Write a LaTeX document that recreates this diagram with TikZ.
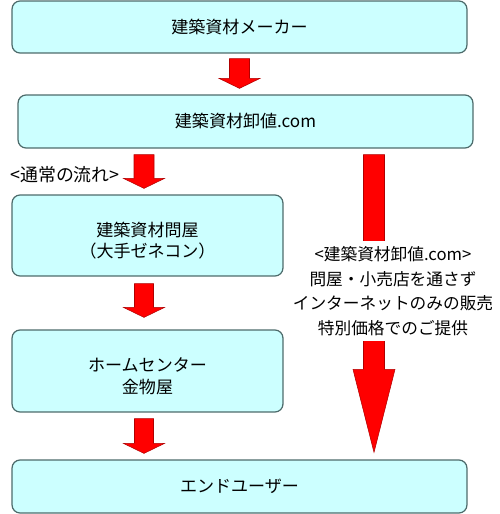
\documentclass[tikz,border=0pt]{standalone}
\usepackage{fontspec}
\setmainfont{Noto Sans CJK JP}
\usetikzlibrary{calc}
\definecolor{boxfill}{HTML}{CCFFFF}
\definecolor{boxline}{HTML}{4D6B6B}
\definecolor{arrowline}{HTML}{B00000}
\tikzset{
	box/.style={draw=boxline, fill=boxfill, line width=0.7pt, rounded corners=0.16cm, inner sep=0pt, align=center, font=\fontsize{9.7}{12.5}\selectfont},
	redarrow/.style={fill=red, draw=arrowline, line width=0.3pt},
	note/.style={align=center, inner sep=0pt, font=\fontsize{9.5}{13.9}\selectfont}
}
% #1 top, #2 tip, #3 half shaft, #4 half head, #5 head length
\newcommand\blockarrow[5]{\path #1 coordinate (ba top) #2 coordinate (ba tip);
	\draw[redarrow] ($(ba tip |- ba top)+(-#3,0)$) -- ($(ba tip)+(-#3,-#5)$) -- ($(ba tip)+(-#4,-#5)$) -- (ba tip) -- ($(ba tip)+(#4,-#5)$) -- ($(ba tip)+(#3,-#5)$) -- ($(ba tip |- ba top)+(#3,0)$) -- cycle;}

\begin{document}
\begin{tikzpicture}[x=0.02cm, y=-0.02cm]
		%%%%% START %%%%%
		
		\useasboundingbox (0, 0) rectangle (500, 514);
		
		\node[box, minimum width=9.1cm, minimum height=1.04cm] (maker) at (239.5, 27) {建築資材メーカー};
		\node[box, minimum width=9.1cm, minimum height=1.06cm] (oroshi) at (245.5, 121.5) {建築資材卸値.com};
		
		\node[box, minimum width=5.42cm, minimum height=1.62cm] (tonya) at (147.5, 235.5) {\rule{0pt}{14pt}建築資材問屋\\（大手ゼネコン）};
		\node[box, minimum width=5.42cm, minimum height=1.64cm] (home) at (147.5, 371) {\rule{0pt}{14pt}ホームセンター\\金物屋};
		
		\node[box, minimum width=9.1cm, minimum height=1.06cm] (user) at (239.5, 486.5) {エンドユーザー};
		
		\node[note, font=\fontsize{10.2}{12.5}\selectfont] (normal) at (65, 175) {<通常の流れ>};
		
		\blockarrow{($(maker.south)+(0,5)$)}{($(maker.south |- oroshi.north)+(0,-6)$)}{10}{20.5}{10}
		\blockarrow{($(tonya.north |- oroshi.south)+(-3.5,6)$)}{($(tonya.north)+(-3.5,-6)$)}{10}{20.5}{10}
		\blockarrow{($(tonya.south)+(-3.5,7)$)}{($(home.north)+(-3.5,-12)$)}{9.5}{20.5}{10}
		\blockarrow{($(home.south)+(-3.5,6)$)}{($(home.south |- user.north)+(-3.5,-6)$)}{9.5}{20.5}{10}
		
		\blockarrow{($(oroshi.south)+(128.5,6)$)}{($(oroshi.south |- user.north)+(128.5,-7)$)}{10.5}{21}{83}
		
		\node[note, fill=white, inner xsep=2pt, inner ysep=3pt] (direct) at (393, 291) {<建築資材卸値.com>\\問屋・小売店を通さず\\インターネットのみの販売\\特別価格でのご提供};
		
		%%%%% END %%%%%
	\end{tikzpicture}
\end{document}
